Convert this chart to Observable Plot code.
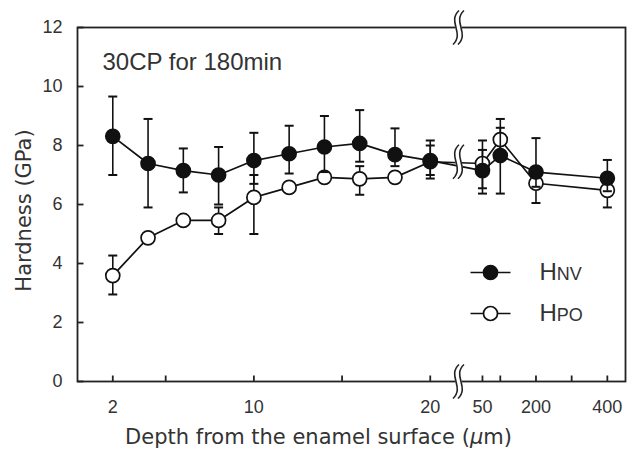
<!DOCTYPE html>
<html><head><meta charset="utf-8">
<script src="https://cdn.jsdelivr.net/npm/d3@7"></script>
<script src="https://cdn.jsdelivr.net/npm/@observablehq/plot@0.6"></script>
<style>body{margin:0;background:#fff}#chart{width:635px;height:452px}</style>
</head><body><div id="chart"></div>
<script>
// ---- data ----
const depths   = [2, 4, 6, 8, 10, 12, 14, 16, 18, 20, 50, 100, 200, 400];
const hnvMean  = [8.31, 7.39, 7.15, 7.00, 7.49, 7.72, 7.95, 8.07, 7.69, 7.49, 7.15, 7.66, 7.10, 6.89];
const hnvHigh  = [9.66, 8.90, 7.90, 7.95, 8.43, 8.67, 9.00, 9.20, 8.58, 8.17, 7.85, 8.60, 8.25, 7.51];
const hnvLow   = [7.00, 5.90, 6.41, 6.00, 6.70, 7.05, 7.10, 7.45, 7.30, 6.88, 6.37, 6.37, 6.60, 6.45];
const hpoMean  = [3.59, 4.87, 5.46, 5.46, 6.24, 6.58, 6.92, 6.87, 6.92, 7.45, 7.39, 8.20, 6.72, 6.48];
const hpoHigh  = [4.27, 5.00, 5.55, 5.90, 7.00, 6.75, 7.10, 7.30, 7.10, 8.00, 8.17, 8.90, 7.20, 6.90];
const hpoLow   = [2.95, 4.70, 5.35, 5.00, 5.00, 6.40, 6.75, 6.33, 6.75, 7.00, 6.55, 7.60, 6.05, 5.90];
const xTicks      = [2, 5, 10, 15, 20, 50, 100, 200, 300, 400];
const xTickLabels = [2, 10, 20, 50, 200, 400];
const yTicks      = [0, 2, 4, 6, 8, 10, 12];
const seriesNames = ["HNV", "HPO"];
const titleText = "30CP for 180min";
const xTitle = "Depth from the enamel surface (μm)";
const yTitle = "Hardness (GPa)";

// ---- broken x axis: linear 0–~21.6, then a compressed linear segment for 50–400 ----
const BREAK_POS = 21.6;
const pos = d => d <= 25 ? d : 22.96 + (d - 50) * 0.02023;
const xDomain = [0, 31.07];

const hnv = depths.map((d, i) => ({p: pos(d), m: hnvMean[i], hi: hnvHigh[i], lo: hnvLow[i]}));
const hpo = depths.map((d, i) => ({p: pos(d), m: hpoMean[i], hi: hpoHigh[i], lo: hpoLow[i]}));
const labelByPos = new Map(xTickLabels.map(d => [pos(d), String(d)]));

// ---- custom symbols ----
const tickUp    = {draw(c) { c.moveTo(0, 0); c.lineTo(0, -6); }};
const tickRight = {draw(c) { c.moveTo(0, 0); c.lineTo(6, 0); }};
const cap       = {draw(c) { c.moveTo(-4.5, 0); c.lineTo(4.5, 0); }};
const legLine   = {draw(c) { c.moveTo(-20, 0); c.lineTo(20, 0); }};
const H = 34;
const breakBand = {draw(c) {
  c.moveTo(0.5, -H/2);
  c.bezierCurveTo(-11.5, -H/6, 6.5, H/6, -5.5, H/2);
  c.lineTo(-0.5, H/2);
  c.bezierCurveTo(11.5, H/6, -6.5, -H/6, 5.5, -H/2);
  c.closePath();
}};
const breakCurves = {draw(c) {
  for (const ox of [-2.5, 2.5]) {
    c.moveTo(ox + 3, -H/2);
    c.bezierCurveTo(ox - 9, -H/6, ox + 9, H/6, ox - 3, H/2);
  }
}};

const INK = "#111";
const TXT = "#333";

function seriesMarks(data, fill) {
  return [
    Plot.line(data, {x: "p", y: "m", stroke: INK, strokeWidth: 1.7}),
    Plot.ruleX(data, {x: "p", y1: "lo", y2: "hi", stroke: INK, strokeWidth: 1.6}),
    Plot.dot(data, {x: "p", y: "hi", symbol: cap, fill: "none", stroke: INK, strokeWidth: 2}),
    Plot.dot(data, {x: "p", y: "lo", symbol: cap, fill: "none", stroke: INK, strokeWidth: 2}),
    Plot.dot(data, {x: "p", y: "m", r: 7, fill, stroke: INK, strokeWidth: 1.7})
  ];
}

function legendMarks(name, fill, dy) {
  return [
    Plot.dot([name], {frameAnchor: "top-left", dx: 413, dy, symbol: legLine, fill: "none", stroke: INK, strokeWidth: 1.7}),
    Plot.dot([name], {frameAnchor: "top-left", dx: 413, dy, r: 7, fill, stroke: INK, strokeWidth: 1.7}),
    Plot.text([name], {text: d => d, frameAnchor: "top-left", dx: 462, dy, textAnchor: "start", lineAnchor: "middle", fontSize: 24, fill: TXT})
  ];
}

const chart = Plot.plot({
  width: 635, height: 452,
  marginLeft: 77, marginRight: 10, marginTop: 27, marginBottom: 71,
  x: {domain: xDomain},
  y: {domain: [0, 12]},
  style: {fontFamily: "'Liberation Sans', Arial, sans-serif", background: "white", overflow: "visible"},
  marks: [
    Plot.frame({stroke: "#222", strokeWidth: 1.8}),
    Plot.axisX(xTickLabels.map(pos), {tickSize: 0, tickPadding: 19, fontSize: 18, fill: TXT, label: null, tickFormat: p => labelByPos.get(p)}),
    Plot.axisY(yTicks, {tickSize: 0, tickPadding: 15, fontSize: 18, fill: TXT, label: null}),
    Plot.dot(xTicks, {x: d => pos(d), y: () => 0, symbol: tickUp, fill: "none", stroke: "#222", strokeWidth: 1.8}),
    Plot.dot(yTicks, {x: () => 0, y: d => d, symbol: tickRight, fill: "none", stroke: "#222", strokeWidth: 1.8}),
    ...seriesMarks(hpo, "white"),
    ...seriesMarks(hnv, INK),
    Plot.dot([12, 0, 7.45], {x: () => BREAK_POS, y: d => d, symbol: breakBand, fill: "white", stroke: "white", strokeWidth: 1.5}),
    Plot.dot([12, 0, 7.45], {x: () => BREAK_POS, y: d => d, symbol: breakCurves, fill: "none", stroke: "#222", strokeWidth: 1.6}),
    Plot.text([titleText], {text: d => d, frameAnchor: "top-left", dx: 25, dy: 35, textAnchor: "start", lineAnchor: "middle", fontSize: 24, letterSpacing: 1.2, fill: TXT}),
    Plot.text([yTitle], {text: d => d, frameAnchor: "left", dx: -53, dy: 6, rotate: -90, textAnchor: "middle", fontSize: 21, fontFamily: "'DejaVu Sans', sans-serif", fill: TXT}),
    Plot.text([xTitle], {text: d => d, frameAnchor: "bottom", dx: -33, dy: 62, textAnchor: "middle", fontSize: 21, fontFamily: "'DejaVu Sans', sans-serif", fill: TXT}),
    ...legendMarks(seriesNames[0], INK, 245),
    ...legendMarks(seriesNames[1], "white", 286)
  ]
});

// rich text: small-caps subscripts in legend, italic μ in x title
const NS = "http://www.w3.org/2000/svg";
chart.querySelectorAll("text").forEach(t => {
  const s = t.textContent;
  if (seriesNames.includes(s)) {
    t.textContent = "";
    const a = document.createElementNS(NS, "tspan");
    a.textContent = s[0];
    const b = document.createElementNS(NS, "tspan");
    b.textContent = s.slice(1);
    b.setAttribute("font-size", "18");
    t.append(a, b);
  } else if (s === xTitle) {
    const i = s.indexOf("μ");
    t.textContent = "";
    const a = document.createElementNS(NS, "tspan");
    a.textContent = s.slice(0, i);
    const b = document.createElementNS(NS, "tspan");
    b.textContent = "μ";
    b.setAttribute("font-style", "italic");
    const c = document.createElementNS(NS, "tspan");
    c.textContent = s.slice(i + 1);
    t.append(a, b, c);
  }
});
document.getElementById("chart").append(chart);
</script>
</body></html>
